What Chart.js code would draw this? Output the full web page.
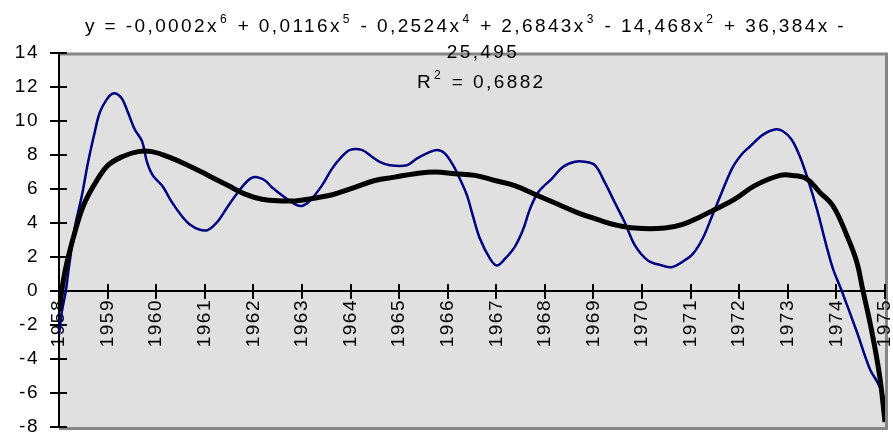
<!DOCTYPE html>
<html>
<head>
<meta charset="utf-8">
<script src="https://cdn.jsdelivr.net/npm/chart.js@4"></script>
<style>
  body { margin: 0; background: #fff; }
</style>
</head>
<body>
<canvas id="grafico" width="893" height="436"></canvas>
<script>
// etiquetas del eje x
const years = [1958, 1959, 1960, 1961, 1962, 1963, 1964, 1965, 1966, 1967, 1968, 1969, 1970, 1971, 1972, 1973, 1974, 1975];

// serie observada (azul)
const serieX = [1958.00, 1958.06, 1958.14, 1958.20, 1958.33, 1958.47, 1958.60, 1958.74, 1958.84, 1958.99,
  1959.09, 1959.19, 1959.30, 1959.42, 1959.56, 1959.71, 1959.81, 1959.93, 1960.12, 1960.33,
  1960.53, 1960.70, 1960.90, 1961.07, 1961.27, 1961.48, 1961.68, 1961.89, 1962.03, 1962.24,
  1962.38, 1962.65, 1962.86, 1963.00, 1963.16, 1963.41, 1963.62, 1963.82, 1963.99, 1964.23,
  1964.44, 1964.60, 1964.81, 1965.16, 1965.37, 1965.57, 1965.78, 1965.94, 1966.11, 1966.25,
  1966.40, 1966.52, 1966.66, 1966.87, 1967.01, 1967.18, 1967.38, 1967.55, 1967.69, 1967.86,
  1968.14, 1968.37, 1968.62, 1968.82, 1969.03, 1969.23, 1969.44, 1969.65, 1969.85, 1970.12,
  1970.41, 1970.61, 1970.82, 1971.05, 1971.25, 1971.44, 1971.64, 1971.87, 1972.07, 1972.22,
  1972.49, 1972.73, 1972.90, 1973.08, 1973.25, 1973.41, 1973.60, 1973.80, 1973.93, 1974.11,
  1974.42, 1974.69, 1974.85, 1975.00];
const serieY = [-2.6, -1.2, 0.0, 1.3, 3.8, 5.6, 7.6, 9.4, 10.5, 11.3,
  11.6, 11.6, 11.3, 10.5, 9.5, 8.8, 7.6, 6.8, 6.2, 5.2,
  4.4, 3.9, 3.6, 3.6, 4.1, 5.0, 5.8, 6.5, 6.7, 6.5,
  6.1, 5.5, 5.1, 5.0, 5.3, 6.2, 7.2, 7.9, 8.3, 8.3,
  7.9, 7.6, 7.4, 7.4, 7.8, 8.1, 8.3, 8.1, 7.4, 6.6,
  5.6, 4.4, 3.1, 1.9, 1.5, 1.9, 2.6, 3.6, 4.8, 5.8,
  6.6, 7.3, 7.6, 7.6, 7.4, 6.4, 5.2, 4.0, 2.7, 1.8,
  1.5, 1.4, 1.7, 2.2, 3.1, 4.4, 5.8, 7.3, 8.1, 8.5,
  9.2, 9.5, 9.4, 8.9, 7.9, 6.6, 4.8, 2.6, 1.3, 0.0,
  -2.4, -4.6, -5.4, -6.4];

// linea de tendencia polinomica (negra)
const tendX = [1958.00, 1958.12, 1958.33, 1958.53, 1958.80, 1959.01, 1959.30, 1959.63, 1959.91, 1960.24,
  1960.65, 1961.07, 1961.48, 1961.83, 1962.18, 1962.59, 1962.86, 1963.12, 1963.53, 1963.78,
  1964.09, 1964.50, 1964.91, 1965.33, 1965.74, 1966.15, 1966.56, 1966.97, 1967.38, 1967.86,
  1968.27, 1968.68, 1969.09, 1969.44, 1969.85, 1970.47, 1970.82, 1971.15, 1971.50, 1971.91,
  1972.32, 1972.84, 1973.10, 1973.39, 1973.66, 1973.93, 1974.21, 1974.42, 1974.54, 1974.73,
  1974.89, 1975.00];
const tendY = [-1.2, 1.1, 3.5, 5.2, 6.6, 7.4, 7.9, 8.2, 8.2, 7.9,
  7.4, 6.8, 6.2, 5.7, 5.4, 5.3, 5.3, 5.4, 5.6, 5.8,
  6.1, 6.5, 6.7, 6.9, 7.0, 6.9, 6.8, 6.5, 6.2, 5.6,
  5.1, 4.6, 4.2, 3.9, 3.7, 3.7, 3.9, 4.3, 4.8, 5.4,
  6.2, 6.8, 6.8, 6.6, 5.8, 5.0, 3.3, 1.7, 0.1, -2.4,
  -5.0, -7.7];

// texto de la ecuacion: [texto, exponente]
const ecuacion = [["y = -0,0002x", "6"], [" + 0,0116x", "5"], [" - 0,2524x", "4"], [" + 2,6843x", "3"], [" - 14,468x", "2"], [" + 36,384x -", ""]];
const ecuacion2 = "25,495";
const r2 = [["R", "2"], [" = 0,6882", ""]];

const fuente = '"Liberation Sans", Arial, sans-serif';

function escribir(ctx, partes, x, y) {
  partes.forEach(([t, sup]) => {
    ctx.font = "19px " + fuente;
    ctx.fillText(t, x, y);
    x += ctx.measureText(t).width;
    if (sup) {
      ctx.font = "12px " + fuente;
      ctx.fillText(sup, x + 1, y - 9);
      x += ctx.measureText(sup).width + 2;
    }
  });
}

const fondo = {
  id: "fondo",
  beforeUpdate(chart) {
    chart.ctx.letterSpacing = "1.5px";
  },
  beforeDraw(chart) {
    const { ctx, chartArea: a, scales } = chart;
    ctx.letterSpacing = "1.5px";
    ctx.save();
    ctx.fillStyle = "#e0e0e0";
    ctx.fillRect(a.left, a.top, a.right - a.left, a.bottom - a.top);
    ctx.strokeStyle = "#858585";
    ctx.lineWidth = 3;
    ctx.beginPath();
    ctx.moveTo(a.left, a.top + 1);
    ctx.lineTo(a.right + 1.5, a.top + 1);
    ctx.lineTo(a.right + 1.5, a.bottom + 1.5);
    ctx.lineTo(a.left, a.bottom + 1.5);
    ctx.stroke();
    // marcas interiores
    ctx.strokeStyle = "#000";
    ctx.lineWidth = 2;
    const y0 = scales.y.getPixelForValue(0);
    ctx.beginPath();
    scales.x.ticks.forEach((t) => {
      const px = Math.round(scales.x.getPixelForValue(t.value));
      ctx.moveTo(px, y0);
      ctx.lineTo(px, y0 - 7);
    });
    scales.y.ticks.forEach((t) => {
      const py = Math.round(scales.y.getPixelForValue(t.value));
      ctx.moveTo(a.left, py);
      ctx.lineTo(a.left + 8, py);
    });
    ctx.stroke();
    ctx.restore();
  },
  afterDraw(chart) {
    const ctx = chart.ctx;
    ctx.save();
    ctx.fillStyle = "#000";
    ctx.textBaseline = "alphabetic";
    ctx.textAlign = "left";
    ctx.letterSpacing = "2.4px";
    escribir(ctx, ecuacion, 85, 32);
    ctx.font = "19px " + fuente;
    const w = ctx.measureText(ecuacion2).width;
    ctx.fillText(ecuacion2, 483 - w / 2, 58);
    escribir(ctx, r2, 417, 88);
    ctx.restore();
  },
};

new Chart(document.getElementById("grafico"), {
  type: "line",
  data: {
    datasets: [
      {
        label: "serie",
        data: serieX.map((x, i) => ({ x: x, y: serieY[i] })),
        borderColor: "#000080",
        borderWidth: 2.5,
        pointRadius: 0,
        tension: 0.35,
        order: 2,
      },
      {
        label: "tendencia",
        data: tendX.map((x, i) => ({ x: x, y: tendY[i] })),
        borderColor: "#000",
        borderWidth: 5,
        pointRadius: 0,
        tension: 0.4,
        order: 1,
      },
    ],
  },
  options: {
    responsive: false,
    animation: false,
    layout: { padding: { top: 53, right: 8, bottom: 9, left: 0 } },
    plugins: { legend: { display: false }, tooltip: { enabled: false } },
    scales: {
      x: {
        type: "linear",
        min: 1958,
        max: 1975,
        position: { y: 0 },
        afterBuildTicks: (s) => {
          s.ticks = years.map((v) => ({ value: v }));
        },
        afterFit: (s) => {
          s.paddingLeft = 0;
          s.paddingRight = 0;
        },
        grid: { drawOnChartArea: false, drawTicks: true, tickLength: 7, color: "#000", lineWidth: 2 },
        border: { display: true, color: "#000", width: 2 },
        ticks: {
          autoSkip: false,
          minRotation: 90,
          maxRotation: 90,
          padding: 1,
          color: "#000",
          font: { family: fuente, size: 19 },
          callback: (v) => String(v),
        },
      },
      y: {
        min: -8,
        max: 14,
        afterFit: (s) => {
          s.width = 59;
          s.paddingTop = 0;
          s.paddingBottom = 0;
        },
        grid: { drawOnChartArea: false, drawTicks: true, tickLength: 9, color: "#000", lineWidth: 2 },
        border: { display: true, color: "#000", width: 2 },
        ticks: {
          stepSize: 2,
          padding: 11,
          color: "#000",
          font: { family: fuente, size: 19 },
        },
      },
    },
  },
  plugins: [fondo],
});
</script>
</body>
</html>
